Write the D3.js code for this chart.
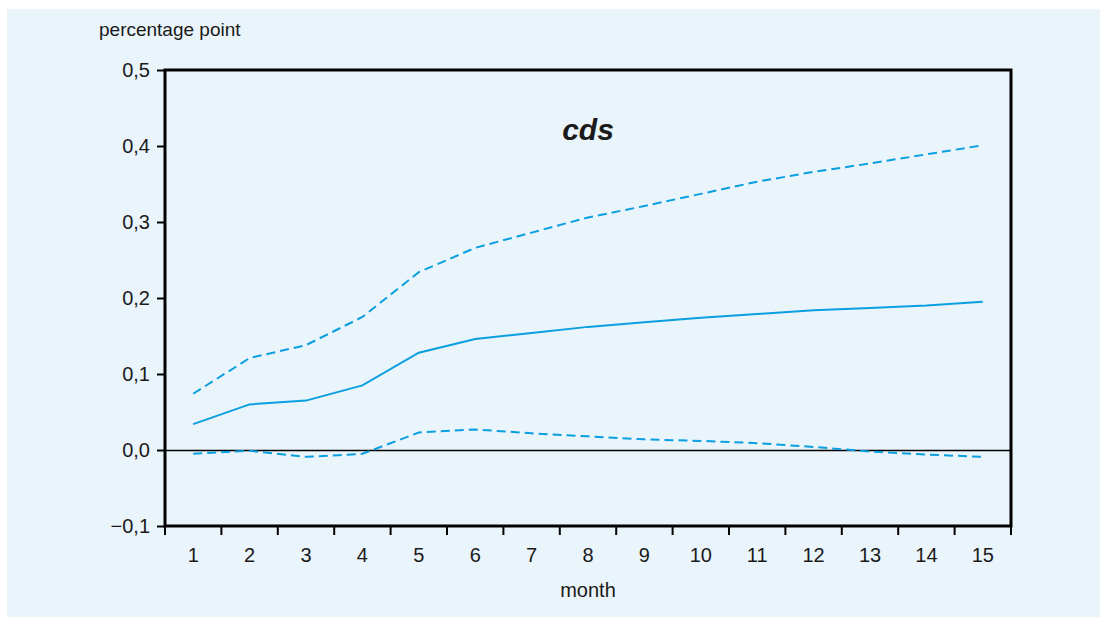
<!DOCTYPE html>
<html>
<head>
<meta charset="utf-8">
<script src="https://cdn.jsdelivr.net/npm/d3@7"></script>
<style>
  body { margin: 0; background: #fff; }
  svg text { font-family: "Liberation Sans", Arial, sans-serif; fill: #1a1a1a; }
</style>
</head>
<body>
<div id="chart"></div>
<script>
// months on the x axis
var months = ["1","2","3","4","5","6","7","8","9","10","11","12","13","14","15"];

// impulse response of cds, with upper and lower bands
var response = [0.034, 0.060, 0.065, 0.085, 0.128, 0.146, 0.154, 0.162, 0.168, 0.174, 0.179, 0.184, 0.187, 0.190, 0.195];
var upperBand = [0.074, 0.121, 0.138, 0.175, 0.234, 0.266, 0.286, 0.306, 0.321, 0.337, 0.353, 0.366, 0.377, 0.389, 0.401];
var lowerBand = [-0.005, -0.001, -0.009, -0.005, 0.023, 0.027, 0.022, 0.018, 0.014, 0.012, 0.009, 0.004, -0.002, -0.006, -0.009];

var yTicks = [-0.1, 0.0, 0.1, 0.2, 0.3, 0.4, 0.5];

var width = 1100, height = 617;
var margin = {top: 70, right: 89, bottom: 91, left: 165};
var lineColor = "#0a9fe0";

var svg = d3.select("#chart")
  .append("svg")
  .attr("width", width)
  .attr("height", height);

// light blue panel
svg.append("rect")
  .attr("x", 7)
  .attr("y", 9)
  .attr("width", width - 7)
  .attr("height", height - 9)
  .attr("fill", "#eaf4fb");

var x = d3.scaleBand()
  .domain(months)
  .range([margin.left, width - margin.right]);

var y = d3.scaleLinear()
  .domain([-0.1, 0.5])
  .range([height - margin.bottom, margin.top]);

var fmt = function(d) {
  return d3.format(".1f")(d).replace(".", ",").replace("-", "\u2013");
};

// y axis ticks and labels
svg.append("g")
  .attr("transform", "translate(" + margin.left + ",0)")
  .call(d3.axisLeft(y).tickValues(yTicks).tickFormat(fmt).tickSize(8).tickPadding(7))
  .call(function(g) { g.select(".domain").remove(); })
  .call(function(g) {
    g.selectAll("line").attr("stroke", "#000").attr("stroke-width", 2);
    g.selectAll("text").attr("font-size", "20px").attr("fill", "#1a1a1a");
  });

// x axis: tick marks on band boundaries, labels at band centres
var xAxisG = svg.append("g")
  .attr("transform", "translate(0," + (height - margin.bottom) + ")");

xAxisG.selectAll("line")
  .data(months.concat(["end"]))
  .enter()
  .append("line")
  .attr("x1", function(d, i) { return i < months.length ? x(d) : x.range()[1]; })
  .attr("x2", function(d, i) { return i < months.length ? x(d) : x.range()[1]; })
  .attr("y1", 0)
  .attr("y2", 9)
  .attr("stroke", "#000")
  .attr("stroke-width", 2);

xAxisG.selectAll("text")
  .data(months)
  .enter()
  .append("text")
  .attr("x", function(d) { return x(d) + x.bandwidth() / 2; })
  .attr("y", 36)
  .attr("text-anchor", "middle")
  .attr("font-size", "20px")
  .text(function(d) { return d; });

// zero line
svg.append("line")
  .attr("x1", margin.left)
  .attr("x2", width - margin.right)
  .attr("y1", y(0) + 0.5)
  .attr("y2", y(0) + 0.5)
  .attr("stroke", "#000")
  .attr("stroke-width", 1.3);

// series lines
var line = d3.line()
  .x(function(d, i) { return x(months[i]) + x.bandwidth() / 2; })
  .y(function(d) { return y(d); });

var series = [
  {values: upperBand, dash: "9,5"},
  {values: response, dash: null},
  {values: lowerBand, dash: "9,5"}
];

svg.append("g")
  .selectAll("path")
  .data(series)
  .enter()
  .append("path")
  .attr("d", function(d) { return line(d.values); })
  .attr("fill", "none")
  .attr("stroke", lineColor)
  .attr("stroke-width", 2)
  .attr("stroke-dasharray", function(d) { return d.dash; });

// frame
svg.append("rect")
  .attr("x", margin.left)
  .attr("y", margin.top)
  .attr("width", width - margin.left - margin.right)
  .attr("height", height - margin.top - margin.bottom)
  .attr("fill", "none")
  .attr("stroke", "#000")
  .attr("stroke-width", 3);

// labels
svg.append("text")
  .attr("x", 99)
  .attr("y", 36)
  .attr("font-size", "19px")
  .text("percentage point");

svg.append("text")
  .attr("x", (margin.left + width - margin.right) / 2)
  .attr("y", 597)
  .attr("text-anchor", "middle")
  .attr("font-size", "20px")
  .text("month");

svg.append("text")
  .attr("x", 588)
  .attr("y", 140)
  .attr("text-anchor", "middle")
  .attr("font-size", "30px")
  .attr("font-weight", "bold")
  .attr("font-style", "italic")
  .attr("fill", "#000")
  .text("cds");
</script>
</body>
</html>
